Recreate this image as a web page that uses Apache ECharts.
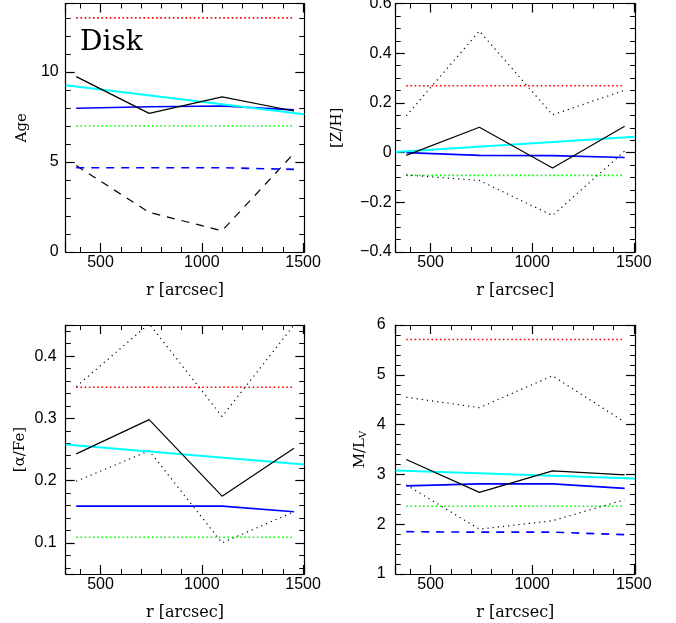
<!DOCTYPE html>
<html>
<head>
<meta charset="utf-8">
<script src="https://cdn.jsdelivr.net/npm/echarts@6/dist/echarts.min.js"></script>
<style>html,body{margin:0;padding:0;background:#fff}#c{width:676px;height:623px}</style>
</head>
<body>
<div id="c"></div>
<script>
// ---- data ----
const xPts = [380, 740, 1100, 1455];
const xFit = [328, 1506];
const xTicks = [500, 1000, 1500];

const ageRed = [13.0, 13.0, 13.0, 13.0];
const ageBlack = [9.74, 7.70, 8.61, 7.83];
const ageCyan = [9.26, 7.65];
const ageBlue = [7.98, 8.07, 8.11, 7.89];
const ageGreen = [7.0, 7.0, 7.0, 7.0];
const ageBlueDash = [4.68, 4.68, 4.68, 4.59];
const ageBlackDash = [4.80, 2.20, 1.18, 5.48];

const zhDotUp = [0.148, 0.489, 0.152, 0.251];
const zhRed = [0.269, 0.269, 0.269, 0.269];
const zhBlack = [-0.011, 0.102, -0.062, 0.106];
const zhCyan = [0.002, 0.064];
const zhBlue = [0.0, -0.011, -0.012, -0.02];
const zhGreen = [-0.0915, -0.0915, -0.0915, -0.0915];
const zhDotLow = [-0.09, -0.112, -0.253, 0.006];

const afDotUp = [0.351, 0.452, 0.303, 0.45];
const afRed = [0.35, 0.35, 0.35, 0.35];
const afBlack = [0.243, 0.298, 0.175, 0.252];
const afCyan = [0.258, 0.226];
const afDotLow = [0.199, 0.248, 0.100, 0.150];
const afBlue = [0.159, 0.159, 0.159, 0.150];
const afGreen = [0.109, 0.109, 0.109, 0.109];

const mlRed = [5.71, 5.71, 5.71, 5.71];
const mlDotUp = [4.55, 4.34, 4.98, 4.05];
const mlBlack = [3.30, 2.64, 3.07, 2.99];
const mlCyan = [3.08, 2.92];
const mlBlue = [2.77, 2.81, 2.81, 2.72];
const mlGreen = [2.36, 2.36, 2.36, 2.36];
const mlDotLow = [2.79, 1.90, 2.07, 2.49];
const mlBlueDash = [1.85, 1.84, 1.84, 1.79];

// ---- styles ----
const RED = {color: '#ff0000', width: 1.6, type: [1.6, 2.6]};
const GREEN = {color: '#00ff00', width: 1.6, type: [1.6, 2.6]};
const BDOT = {color: '#000000', width: 1.2, type: [1.2, 4]};
const BSOL = {color: '#000000', width: 1.2, type: 'solid'};
const BDASH = {color: '#000000', width: 1.2, type: [8, 7]};
const CYAN = {color: '#00ffff', width: 2, type: 'solid'};
const BLUE = {color: '#0000ff', width: 1.6, type: 'solid'};
const BLUEDASH = {color: '#0000ff', width: 1.6, type: [8, 7]};

function isMult(v, step) { return Math.abs(v / step - Math.round(v / step)) < 1e-6; }

const grids = [
  {left: 65.7, top: 3.5, width: 238.6, height: 248.5},
  {left: 395.7, top: 3.5, width: 239.3, height: 248.5},
  {left: 65.7, top: 325, width: 238.6, height: 249},
  {left: 395.7, top: 325, width: 239.3, height: 249}
].map(g => Object.assign({containLabel: false, outerBoundsMode: 'none'}, g));

const lineCommon = {color: '#000', width: 1.2};
const MAJ = 9, MIN = 5;

// kind: 'frame' (axis line + labels/name), 'major' (major ticks only), 'minor' (minor ticks only)
function scaleOpts(ax, cfg) {
  if (cfg.useInterval) ax.interval = cfg.step;
  else { ax.minInterval = cfg.step; ax.maxInterval = cfg.step; ax.splitNumber = 2; }
  return ax;
}
function baseAx(gi, pos, kind, cfg) {
  const ax = {
    type: 'value', gridIndex: gi, position: pos, min: cfg.min, max: cfg.max,
    offset: kind === 'major' ? -MAJ : (kind === 'minor' ? -MIN : 0),
    axisLine: {show: kind === 'frame', onZero: false, lineStyle: lineCommon},
    axisTick: {show: kind === 'major', inside: false, length: MAJ, lineStyle: lineCommon},
    minorTick: {show: kind === 'minor', splitNumber: cfg.minor, length: MIN, lineStyle: {color: '#000', width: 1}},
    splitLine: {show: false}, minorSplitLine: {show: false},
    axisLabel: {show: false},
    silent: true
  };
  return scaleOpts(ax, cfg);
}
const xCfg = {min: xFit[0], max: xFit[1], step: 500, minor: 5, useInterval: false};
const fmt1 = v => { if (Math.abs(v) < 1e-9) return '0'; return (v < 0 ? '\u2212' : '') + Math.abs(v).toFixed(1); };
const yCfg = [
  {min: 0, max: 13.8, step: 5, minor: 5, useInterval: true, margin: 7, name: 'Age', nameGap: 36, fmt: v => String(Math.round(v))},
  {min: -0.4, max: 0.6, step: 0.2, minor: 4, useInterval: true, margin: 4, name: '[Z/H]', nameGap: 51, fmt: fmt1},
  {min: 0.05, max: 0.45, step: 0.1, minor: 5, useInterval: false, margin: 9, name: '[\u03b1/Fe]', nameGap: 38, fmt: fmt1},
  {min: 1, max: 6, step: 1, minor: 5, useInterval: true, margin: 10, name: 'M/L{sub|V}', nameGap: 27, fmt: v => String(Math.round(v))}
];

const xAxes = [], yAxes = [];
for (let i = 0; i < 4; i++) {
  // x: bottom frame (labels+name), bottom major, bottom minor, top frame, top major, top minor
  const xb = baseAx(i, 'bottom', 'frame', xCfg);
  xb.axisLabel = {show: true, margin: 3, color: '#000', fontFamily: 'Liberation Sans', fontSize: 16,
    formatter: v => (xTicks.some(t => Math.abs(t - v) < 1e-6) ? String(Math.round(v)) : '')};
  xb.name = 'r [arcsec]'; xb.nameLocation = 'middle'; xb.nameGap = 31;
  xb.nameTextStyle = {fontFamily: 'DejaVu Serif', fontSize: 16, color: '#000'};
  xAxes.push(xb, baseAx(i, 'bottom', 'major', xCfg), baseAx(i, 'bottom', 'minor', xCfg),
             baseAx(i, 'top', 'frame', xCfg), baseAx(i, 'top', 'major', xCfg), baseAx(i, 'top', 'minor', xCfg));
  const c = yCfg[i];
  const yl = baseAx(i, 'left', 'frame', c);
  yl.axisLabel = {show: true, margin: c.margin, color: '#000', fontFamily: 'Liberation Sans', fontSize: 16,
    formatter: v => (isMult(v, c.step) ? c.fmt(v) : '')};
  yl.name = c.name; yl.nameLocation = 'middle'; yl.nameGap = c.nameGap; yl.nameRotate = 90;
  yl.nameTextStyle = {fontFamily: 'DejaVu Serif', fontSize: 15, color: '#000',
    rich: {sub: {fontFamily: 'DejaVu Serif', fontSize: 10, color: '#000', verticalAlign: 'bottom', padding: [8, 0, 0, 0]}}};
  yAxes.push(yl, baseAx(i, 'left', 'major', c), baseAx(i, 'left', 'minor', c),
             baseAx(i, 'right', 'frame', c), baseAx(i, 'right', 'major', c), baseAx(i, 'right', 'minor', c));
}

const series = [];
function add(panel, xs, ys, style) {
  series.push({
    type: 'line', xAxisIndex: panel * 6, yAxisIndex: panel * 6,
    data: xs.map((x, k) => [x, ys[k]]),
    showSymbol: false, symbol: 'none', silent: true, clip: true,
    lineStyle: Object.assign({}, style)
  });
}
// Age
add(0, xPts, ageRed, RED);
add(0, xPts, ageGreen, GREEN);
add(0, xPts, ageBlackDash, BDASH);
add(0, xPts, ageBlueDash, BLUEDASH);
add(0, xPts, ageBlue, BLUE);
add(0, xFit, ageCyan, CYAN);
add(0, xPts, ageBlack, BSOL);
// Z/H
add(1, xPts, zhRed, RED);
add(1, xPts, zhGreen, GREEN);
add(1, xPts, zhDotUp, BDOT);
add(1, xPts, zhDotLow, BDOT);
add(1, xPts, zhBlue, BLUE);
add(1, xFit, zhCyan, CYAN);
add(1, xPts, zhBlack, BSOL);
// alpha/Fe
add(2, xPts, afRed, RED);
add(2, xPts, afGreen, GREEN);
add(2, xPts, afDotUp, BDOT);
add(2, xPts, afDotLow, BDOT);
add(2, xPts, afBlue, BLUE);
add(2, xFit, afCyan, CYAN);
add(2, xPts, afBlack, BSOL);
// M/L
add(3, xPts, mlRed, RED);
add(3, xPts, mlGreen, GREEN);
add(3, xPts, mlDotUp, BDOT);
add(3, xPts, mlDotLow, BDOT);
add(3, xPts, mlBlueDash, BLUEDASH);
add(3, xPts, mlBlue, BLUE);
add(3, xFit, mlCyan, CYAN);
add(3, xPts, mlBlack, BSOL);

const chart = echarts.init(document.getElementById('c'), null, {renderer: 'canvas'});
chart.setOption({
  animation: false,
  backgroundColor: '#ffffff',
  title: {text: 'Disk', left: 80, top: 29, padding: 0,
    textStyle: {fontFamily: 'DejaVu Serif', fontSize: 28, fontWeight: 'normal', color: '#000'}},
  grid: grids,
  xAxis: xAxes,
  yAxis: yAxes,
  series: series
});
</script>
</body>
</html>
